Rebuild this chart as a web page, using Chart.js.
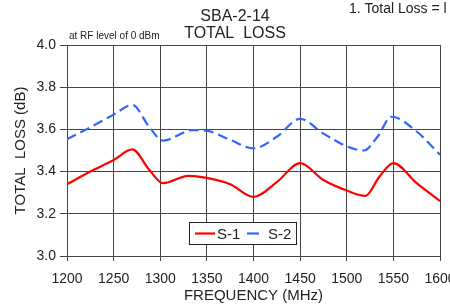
<!DOCTYPE html>
<html>
<head>
<meta charset="utf-8">
<script src="https://cdn.jsdelivr.net/npm/chart.js@4"></script>
<style>
  html, body { margin: 0; padding: 0; background: #fff; }
  #wrap { width: 450px; height: 305px; position: relative; }
</style>
</head>
<body>
<div id="wrap"><canvas id="lossChart" width="450" height="305"></canvas></div>
<script>
// frequencies (MHz) and total loss (dB)
const freqS1 = [1200, 1225, 1250, 1270, 1288, 1303, 1330, 1350, 1375, 1400, 1425, 1450, 1475, 1500, 1520, 1535, 1550, 1575, 1600];
const lossS1 = [3.34, 3.40, 3.455, 3.505, 3.41, 3.345, 3.38, 3.37, 3.34, 3.28, 3.35, 3.44, 3.36, 3.31, 3.285, 3.376, 3.44, 3.345, 3.26];
const freqS2 = [1200, 1225, 1250, 1270, 1288, 1303, 1335, 1350, 1375, 1400, 1425, 1450, 1475, 1500, 1518, 1533, 1548, 1575, 1600];
const lossS2 = [3.553, 3.61, 3.67, 3.716, 3.613, 3.547, 3.597, 3.594, 3.55, 3.51, 3.565, 3.65, 3.58, 3.52, 3.50, 3.565, 3.66, 3.59, 3.48];
const seriesNames = ['S-1', 'S-2'];
const xTicks = [1200, 1250, 1300, 1350, 1400, 1450, 1500, 1550, 1600];
const yTicks = [3.0, 3.2, 3.4, 3.6, 3.8, 4.0];

const FONT = '"Liberation Sans", Arial, sans-serif';
const RED = '#ff0000';
const BLUE = '#3366ff';

function toPoints(xs, ys) {
    return xs.map((x, i) => ({ x: x, y: ys[i] }));
}

// extra texts + legend box drawn on the canvas
const notesPlugin = {
    id: 'notes',
    afterDraw(chart) {
        const ctx = chart.ctx;
        ctx.save();
        ctx.fillStyle = '#222';
        ctx.textBaseline = 'middle';
        ctx.textAlign = 'center';
        ctx.font = '16px ' + FONT;
        ctx.fillText('SBA-2-14', 235, 17);
        ctx.fillText('TOTAL  LOSS', 235, 34);
        ctx.textAlign = 'left';
        ctx.font = '10px ' + FONT;
        ctx.fillText('at RF level of 0 dBm', 69, 36);
        ctx.font = '14px ' + FONT;
        ctx.fillText('1. Total Loss = l', 349, 9);

        // legend
        const bx = 189, by = 222, bw = 107, bh = 22;
        ctx.fillStyle = '#fff';
        ctx.fillRect(bx, by, bw, bh);
        ctx.strokeStyle = '#222';
        ctx.lineWidth = 1;
        ctx.strokeRect(bx + 0.5, by + 0.5, bw, bh);
        const ly = by + bh / 2 + 0.5;
        ctx.lineWidth = 2.2;
        ctx.strokeStyle = RED;
        ctx.beginPath(); ctx.moveTo(195, ly); ctx.lineTo(215, ly); ctx.stroke();
        ctx.strokeStyle = BLUE;
        ctx.beginPath(); ctx.moveTo(247, ly); ctx.lineTo(259, ly); ctx.stroke();
        ctx.fillStyle = '#222';
        ctx.font = '15px ' + FONT;
        ctx.fillText(seriesNames[0], 217, ly + 1);
        ctx.fillText(seriesNames[1], 268, ly + 1);
        ctx.restore();
    }
};

const ctx = document.getElementById('lossChart').getContext('2d');
new Chart(ctx, {
    type: 'line',
    data: {
        datasets: [
            {
                label: seriesNames[0],
                data: toPoints(freqS1, lossS1),
                borderColor: RED,
                borderWidth: 2.2,
                pointRadius: 0,
                cubicInterpolationMode: 'monotone',
                fill: false
            },
            {
                label: seriesNames[1],
                data: toPoints(freqS2, lossS2),
                borderColor: BLUE,
                borderWidth: 2.2,
                borderDash: [10, 5],
                pointRadius: 0,
                cubicInterpolationMode: 'monotone',
                fill: false
            }
        ]
    },
    options: {
        responsive: false,
        animation: false,
        devicePixelRatio: 1,
        layout: { padding: { left: 12, right: 10, top: 45, bottom: 0 } },
        plugins: {
            legend: { display: false },
            tooltip: { enabled: false }
        },
        scales: {
            x: {
                type: 'linear',
                min: 1200,
                max: 1600,
                afterBuildTicks: (scale) => { scale.ticks = xTicks.map(v => ({ value: v })); },
                afterFit: (scale) => { scale.height = 49; scale.paddingRight = 0; scale.paddingLeft = 0; },
                grid: { color: '#444', lineWidth: 1, tickLength: 5 },
                border: { color: '#444' },
                ticks: { color: '#222', font: { family: FONT, size: 14 }, padding: 10, maxRotation: 0, callback: (v) => String(v) },
                title: { display: true, text: 'FREQUENCY (MHz)', color: '#222', font: { family: FONT, size: 15 }, padding: { top: 0, bottom: 0 } }
            },
            y: {
                min: 3.0,
                max: 4.0,
                afterBuildTicks: (scale) => { scale.ticks = yTicks.map(v => ({ value: v })); },
                afterFit: (scale) => { scale.width = 55; scale.paddingTop = 0; scale.paddingBottom = 0; },
                grid: { color: '#444', lineWidth: 1, tickLength: 7 },
                border: { color: '#444' },
                ticks: { color: '#222', font: { family: FONT, size: 14 }, padding: 4, callback: (v) => Number(v).toFixed(1) },
                title: { display: true, text: 'TOTAL  LOSS (dB)', color: '#222', font: { family: FONT, size: 15 }, padding: { top: 0, bottom: 2 } }
            }
        }
    },
    plugins: [notesPlugin]
});
</script>
</body>
</html>
